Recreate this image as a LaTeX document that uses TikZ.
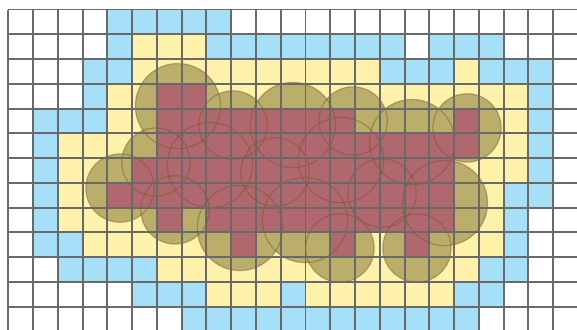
\documentclass[tikz,border=0pt]{standalone}
\usepackage{xcolor}
\usepackage{tikz}

\definecolor{cellblue}{RGB}{166,224,248}
\definecolor{cellyellow}{RGB}{255,242,170}
\definecolor{cellred}{RGB}{176,104,110}
\definecolor{blobfill}{RGB}{187,173,106}
\definecolor{blobline}{RGB}{110,80,30}
\definecolor{gridgray}{RGB}{105,105,105}

\begin{document}
\begin{tikzpicture}[x=5mm, y=-5mm,
    bluecell/.style={fill=cellblue},
    yellowcell/.style={fill=cellyellow},
    redcell/.style={fill=cellred},
    blob/.style={fill=blobfill},
    blobedge/.style={draw=blobline, draw opacity=0.4, line width=0.7pt},
    gridline/.style={draw=gridgray, line width=1.1pt, xstep=5mm, ystep=5mm}
  ]
  \useasboundingbox (-0.335,-0.384) rectangle (22.96,12.90);
  \clip (-0.335,-0.384) rectangle (22.96,12.90);
  \fill[white] (-0.335,-0.384) rectangle (22.96,12.90);

  % outer ring (row/from/to)
  \foreach \rw/\a/\b in {0/4/8, 1/4/4, 1/8/15, 1/17/19, 2/3/4, 2/15/17, 2/19/21,
      3/3/3, 3/21/21, 4/1/3, 4/21/21, 5/1/1, 5/21/21, 6/1/1, 6/21/21,
      7/1/1, 7/20/21, 8/1/1, 8/20/20, 9/1/2, 9/20/20, 10/2/5, 10/19/20,
      11/5/7, 11/11/11, 11/18/19, 12/7/18}
    \fill[bluecell] (\a,\rw) rectangle (\b+1,\rw+1);

  % inner ring
  \foreach \rw/\a/\b in {1/5/7, 2/5/14, 2/18/18, 3/4/20, 4/4/20, 5/2/20,
      6/2/20, 7/2/19, 8/2/19, 9/3/19, 10/6/18, 11/8/10, 11/12/17}
    \fill[yellowcell] (\a,\rw) rectangle (\b+1,\rw+1);

  % discs (x/y/radius, in cells)
  \def\discs{6.85/3.90/1.72, 9.07/4.66/1.38, 11.49/4.66/1.72, 13.92/4.50/1.38,
      16.30/5.35/1.72, 18.52/4.78/1.38, 4.51/7.21/1.38, 5.96/6.16/1.38,
      8.14/6.28/1.72, 6.73/8.09/1.38, 9.35/8.82/1.72, 10.77/6.56/1.38,
      11.98/8.50/1.72, 13.43/6.08/1.72, 13.39/9.63/1.38, 15.09/7.41/1.38,
      16.50/9.63/1.38, 17.63/7.81/1.72}
  \foreach \cx/\cy/\rad in \discs
    \fill[blob] (\cx,\cy) circle[radius=\rad];

  % occupied cells
  \foreach \rw/\a/\b in {3/6/7, 4/6/13, 4/18/18, 5/6/18, 6/5/17, 7/4/17,
      8/6/6, 8/8/17, 9/9/9, 9/13/13, 9/16/16}
    \fill[redcell] (\a,\rw) rectangle (\b+1,\rw+1);

  \foreach \cx/\cy/\rad in \discs
    \draw[blobedge] (\cx,\cy) circle[radius=\rad];

  \draw[gridline] (0,0) grid (24,14);
\end{tikzpicture}
\end{document}
